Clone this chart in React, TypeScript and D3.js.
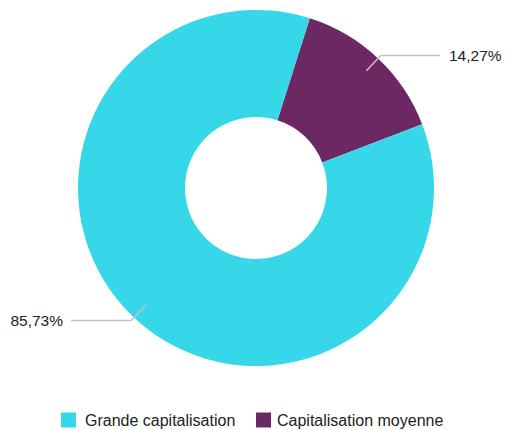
import React from "react";
import * as d3 from "d3";

const categories = ["Grande capitalisation", "Capitalisation moyenne"];
const values = [85.73, 14.27];
const labels = ["85,73%", "14,27%"];
const colors = ["#37d7ea", "#6c2862"];

const W = 506;
const H = 430;
const cx = 256;
const cy = 188;
const outerR = 178;
const innerR = 71;
const startDeg = 17.6;

export default function App() {
  const start = (startDeg * Math.PI) / 180;
  const order = [1, 0];
  const total = d3.sum(values);
  const angleScale = d3.scaleLinear().domain([0, total]).range([0, 2 * Math.PI]);
  let acc = start;
  const slices = order.map((i) => {
    const s = acc;
    const e = acc + angleScale(values[i]);
    acc = e;
    return { i, startAngle: s, endAngle: e };
  });
  const arc = d3.arc<any>().innerRadius(innerR).outerRadius(outerR);

  return (
    <svg width={W} height={H} style={{ position: "absolute", left: 0, top: 0 }} fontFamily="'Liberation Sans', Arial, sans-serif">
      <rect width={W} height={H} fill="#fff" />
      <g transform={`translate(${cx},${cy})`}>
        {slices.map((s) => (
          <path key={s.i} d={arc(s) as string} fill={colors[s.i]} />
        ))}
        {slices.map((s) => {
          const mid = (s.startAngle + s.endAngle) / 2;
          const sx = Math.sin(mid), sy = -Math.cos(mid);
          const r1 = 161, r2 = 182;
          const p1 = [sx * r1, sy * r1];
          const p2 = [sx * r2, sy * r2];
          const right = sx > 0;
          const p3x = right ? 184 : -185;
          const tx = right ? p3x + 9 : p3x - 8;
          return (
            <g key={"l" + s.i}>
              <polyline
                points={`${p1[0]},${p1[1]} ${p2[0]},${p2[1]} ${p3x},${p2[1]}`}
                fill="none"
                stroke="#c4c4c4"
                strokeWidth={1.5}
              />
              <text x={tx} y={p2[1]} dy="0.35em" fontSize={15.5} fill="#222" textAnchor={right ? "start" : "end"}>
                {labels[s.i]}
              </text>
            </g>
          );
        })}
      </g>
      <g transform="translate(0,420)">
        <rect x={61} y={-7.5} width={15} height={15} fill={colors[0]} />
        <text x={85} y={0} dy="0.35em" fontSize={16} fill="#222">{categories[0]}</text>
        <rect x={256} y={-7.5} width={15} height={15} fill={colors[1]} />
        <text x={277} y={0} dy="0.35em" fontSize={16} fill="#222">{categories[1]}</text>
      </g>
    </svg>
  );
}
